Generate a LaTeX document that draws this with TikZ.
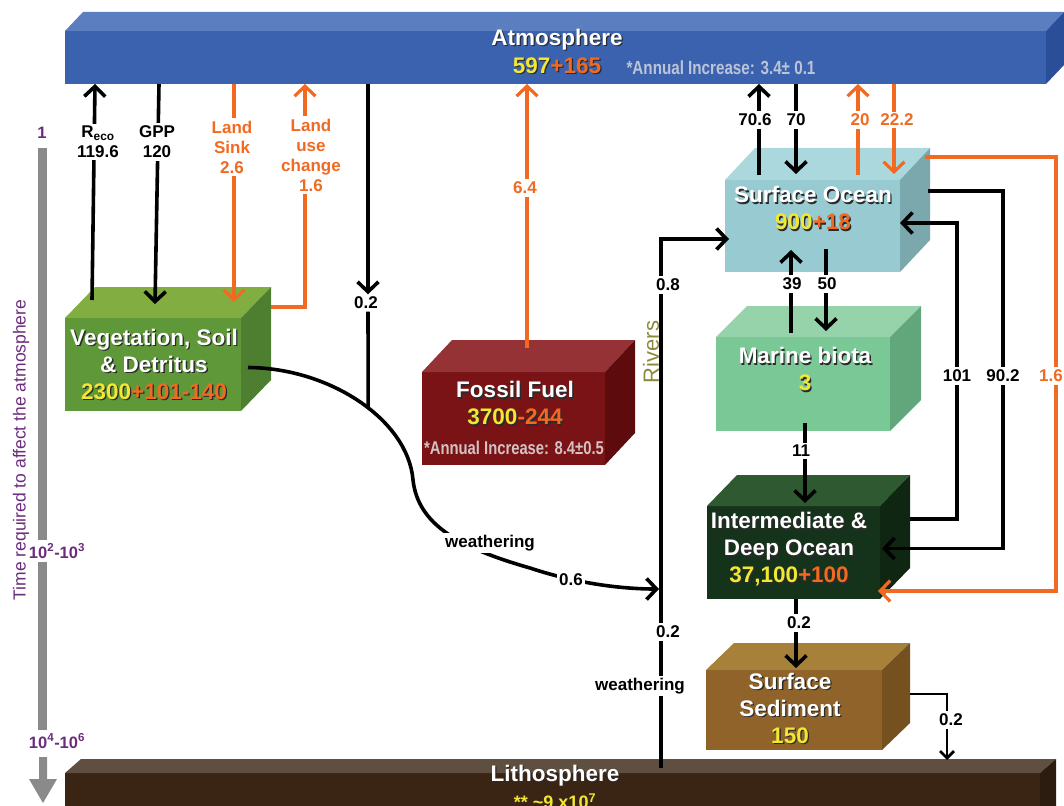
\documentclass[tikz,border=0pt]{standalone}
\usepackage{fontspec}
\setmainfont{Liberation Sans}
\newfontfamily\narrowfont[FakeStretch=0.8]{Liberation Sans}
\usetikzlibrary{arrows.meta,calc}

% face colours of the reservoirs (front, top, side)
\definecolor{atmF}{HTML}{3A62AE}\definecolor{atmT}{HTML}{5B7EC0}\definecolor{atmS}{HTML}{2B4E98}
\definecolor{lithF}{HTML}{3A2515}\definecolor{lithT}{HTML}{5E4F40}\definecolor{lithS}{HTML}{2C1C0F}
\definecolor{vegF}{HTML}{5F9838}\definecolor{vegT}{HTML}{82AD40}\definecolor{vegS}{HTML}{4E7E30}
\definecolor{fosF}{HTML}{7A1315}\definecolor{fosT}{HTML}{943236}\definecolor{fosS}{HTML}{5E0B0D}
\definecolor{ocnF}{HTML}{97CBD1}\definecolor{ocnT}{HTML}{ABD8DC}\definecolor{ocnS}{HTML}{7AA8AC}
\definecolor{marF}{HTML}{79C895}\definecolor{marT}{HTML}{96D3AA}\definecolor{marS}{HTML}{62A67C}
\definecolor{deepF}{HTML}{15321A}\definecolor{deepT}{HTML}{2F5A31}\definecolor{deepS}{HTML}{0F2712}
\definecolor{sedF}{HTML}{8F6329}\definecolor{sedT}{HTML}{A78139}\definecolor{sedS}{HTML}{74511F}
% text and line colours
\definecolor{ylw}{HTML}{F2E834}
\definecolor{orn}{HTML}{F26A22}
\definecolor{purp}{HTML}{6B2C7E}
\definecolor{rivc}{HTML}{8C8A3A}
\definecolor{tgray}{HTML}{8A8A8A}
\definecolor{annA}{HTML}{BCC4D8}
\definecolor{annF}{HTML}{D4C2C2}
\definecolor{txtshadow}{HTML}{2A2A2A}

% text with a small drop shadow
\newcommand\shd[2]{\rlap{\kern1.3pt\raisebox{-1.3pt}{\textcolor{txtshadow}{#2}}}\textcolor{#1}{#2}}

% top and side faces of a box whose front face is node #1
\newcommand\drawcube[5]{%
  \fill[#4] (#1.north west) -- ++(#2,-#3) -- ($(#1.north east)+(#2,-#3)$) -- (#1.north east) -- cycle;
  \fill[#5] (#1.north east) -- ++(#2,-#3) -- ($(#1.south east)+(#2,-#3)$) -- (#1.south east) -- cycle;}

\begin{document}
\begin{tikzpicture}[x=1pt,y=-1pt,
  front/.style={inner sep=0pt, outer sep=0pt},
  ttl/.style={inner sep=0pt, align=center, text=white, font=\bfseries\fontsize{22.5}{27}\selectfont},
  annual/.style={inner sep=0pt, font=\narrowfont\bfseries\fontsize{19}{22}\selectfont},
  lbl/.style={fill=white, inner sep=2.5pt, align=center, font=\bfseries\fontsize{17}{20}\selectfont},
  olbl/.style={lbl, text=orn},
  tlbl/.style={inner sep=1pt, text=purp, font=\bfseries\fontsize{16.5}{19}\selectfont},
  flow/.style={draw=black, line width=3.6pt},
  oflow/.style={draw=orn, line width=3.2pt},
  thinflow/.style={draw=black, line width=2.8pt},
  flowhead/.style={-{Straight Barb[length=10pt,width=21pt]}},
  smallhead/.style={-{Straight Barb[length=7pt,width=14pt]}}]

\useasboundingbox (0,0) rectangle (1064,805);
\clip (0,0) rectangle (1064,805);

% ---------- reservoirs ----------
\node[front, fill=atmF, minimum width=981pt, minimum height=53pt] (atm) at (555.5,57.5) {};
\drawcube{atm}{18}{19}{atmT}{atmS}
\node[front, fill=lithF, minimum width=975pt, minimum height=60pt] (litho) at (552.5,803) {};
\drawcube{litho}{16}{14}{lithT}{lithS}
\node[front, fill=vegF, minimum width=176pt, minimum height=93pt] (veg) at (153,364.5) {};
\drawcube{veg}{30}{31}{vegT}{vegS}
\node[front, fill=fosF, minimum width=183pt, minimum height=93pt] (fossil) at (513.5,418.5) {};
\drawcube{fossil}{30}{32}{fosT}{fosS}
\node[front, fill=ocnF, minimum width=175pt, minimum height=92pt] (ocean) at (812.5,226) {};
\drawcube{ocean}{30}{32}{ocnT}{ocnS}
\node[front, fill=marF, minimum width=174pt, minimum height=94pt] (marine) at (803,384) {};
\drawcube{marine}{31}{31}{marT}{marS}
\node[front, fill=deepF, minimum width=173pt, minimum height=93pt] (deep) at (793.5,552.5) {};
\drawcube{deep}{30}{31}{deepT}{deepS}
\node[front, fill=sedF, minimum width=176pt, minimum height=80pt] (sed) at (794,710) {};
\drawcube{sed}{28}{27}{sedT}{sedS}

% ---------- reservoir texts ----------
\node[ttl] (atmtitle) at (557,40) {\shd{white}{Atmosphere}};
\node[ttl] (atmnum) at (557,66) {\shd{ylw}{597}\shd{orn}{+165}};
\node[annual, text=annA] (atmann) at (721,68) {*Annual Increase: 3.4± 0.1};
\node[ttl] (vegtxt) at (154,365) {\shd{white}{Vegetation, Soil}\\\shd{white}{\& Detritus}\\\shd{ylw}{2300}\shd{orn}{+101-140}};
\node[ttl] (fostxt) at (515,404) {\shd{white}{Fossil Fuel}\\\shd{ylw}{3700}\shd{orn}{-244}};
\node[annual, text=annF, font=\narrowfont\bfseries\fontsize{18.5}{21}\selectfont] (fosann) at (514,448) {*Annual Increase: 8.4±0.5};
\node[ttl] (ocntxt) at (813,209) {\shd{white}{Surface Ocean}\\\shd{ylw}{900}\shd{orn}{+18}};
\node[ttl] (martxt) at (805,370) {\shd{white}{Marine biota}\\\shd{ylw}{3}};
\node[ttl] (deeptxt) at (789,550) {\shd{white}{Intermediate \&}\\\shd{white}{Deep Ocean}\\\shd{ylw}{37,100}\shd{orn}{+100}};
\node[ttl] (sedtxt) at (790,709) {\shd{white}{Surface}\\\shd{white}{Sediment}\\\shd{ylw}{150}};
\node[ttl] (lithtxt) at (555,787) {\shd{white}{Lithosphere}\\\textcolor{ylw}{\fontsize{18}{20}\selectfont ** \textasciitilde9 x10\textsuperscript{7}}};

% ---------- time axis ----------
\fill[tgray] (38,148) rectangle (47,540);
\fill[tgray] (38,562) rectangle (47,730);
\fill[tgray] (39,757) -- (47,757) -- (47,779) -- (57,779) -- (43,803) -- (29,779) -- (39,779) -- cycle;
\node[tlbl] (t1) at (42,133) {1};
\node[tlbl] (t2) at (57,551) {10\textsuperscript{2}-10\textsuperscript{3}};
\node[tlbl] (t3) at (57,741) {10\textsuperscript{4}-10\textsuperscript{6}};
\node[rotate=90, inner sep=0pt, text=purp, font=\fontsize{17.5}{20}\selectfont] (taxis) at (21,450) {Time required to affect the atmosphere};

% ---------- land fluxes ----------
\draw[flow, flowhead] ($(92,0 |- veg.north)+(0,-18)$) -- (95,0 |- atm.south);
\draw[flow, flowhead] (159,0 |- atm.south) -- ($(155,0 |- veg.north)+(0,-14)$);
\draw[oflow, flowhead] (234,0 |- atm.south) -- ($(234,0 |- veg.north)+(0,-16)$);
\draw[oflow, flowhead] ($(veg.north east)+(30,-11)$) -| (305,0 |- atm.south);
\draw[oflow, flowhead] ($(527,0 |- fossil.north)+(0,-24)$) -- (527,0 |- atm.south);

% weathering from the land to the rivers
\coordinate (rjoin) at (659,589);
\draw[flow, flowhead] ($(veg.east)+(7,3)$) .. controls (330,368) and (408,420) .. (413,480)
  coordinate[pos=0.55] (wjoin)
  .. controls (418,525) and (460,548) .. (530,568)
  .. controls (575,583) and (620,589) .. (rjoin);
\node[lbl] (l02a) at (366,303) {0.2};
\draw[flow, flowhead] (368,0 |- atm.south) -- (368,0 |- l02a.north);
\draw[flow] (368,0 |- l02a.south) -- (wjoin);

% rivers
\draw[flow, flowhead] ($(661,0 |- litho.north)+(0,-5)$) |- ($(ocean.west)+(4,13)$);
\node[rotate=90, inner sep=0pt, text=rivc, font=\fontsize{22}{26}\selectfont] (rivers) at (651,352) {Rivers};

% ---------- ocean fluxes ----------
\draw[flow, flowhead] ($(759,0 |- ocean.north)+(0,-5)$) -- (759,0 |- atm.south);
\draw[flow, flowhead] (796,0 |- atm.south) -- ($(796,0 |- ocean.north)+(0,-6)$);
\draw[oflow, flowhead] ($(858,0 |- ocean.north)+(0,-5)$) -- (858,0 |- atm.south);
\draw[oflow, flowhead] (894,0 |- atm.south) -- ($(894,0 |- ocean.north)+(0,-6)$);
\draw[flow, flowhead] ($(791,0 |- marine.north)+(0,-4)$) -- ($(791,0 |- ocean.south)+(0,-22)$);
\draw[flow, flowhead] ($(826,0 |- ocean.south)+(0,-23)$) -- ($(826,0 |- marine.north)+(0,-6)$);
\draw[flow, flowhead] ($(805,0 |- marine.south)+(0,-8)$) -- ($(805,0 |- deep.north)+(0,-3)$);
\draw[flow, flowhead] ($(deep.north east)+(30,13)$) -- ++(47,0) |- ($(ocean.east)+(0,-3)$);
\draw[flow, flowhead] ($(ocean.north east)+(28,11)$) -- ++(75,0) |- ($(deep.east)+(2,-4)$);
\draw[oflow, flowhead] ($(ocean.north east)+(25,-23)$) -- ++(131,0) |- ($(deep.south east)+(-2,-8)$);
\draw[flow, flowhead] (796,0 |- deep.south) -- ($(796,0 |- sed.north)+(0,-2)$);
\draw[thinflow, smallhead] ($(sed.north east)+(28,24)$) -- ++(37,0) -- ($(947,0 |- litho.north)+(0,-13)$);

% ---------- flux labels ----------
\node[lbl] (lreco) at (98,142) {R\textsubscript{eco}\\119.6};
\node[lbl] (lgpp) at (157,142) {GPP\\120};
\node[olbl] (lsink) at (232,147) {Land\\Sink\\2.6};
\node[olbl] (lluc) at (311,155) {Land\\use\\change\\1.6};
\node[olbl] (l64) at (525,188) {6.4};
\node[lbl] (l706) at (755,120) {70.6};
\node[lbl] (l70) at (796,120) {70};
\node[olbl] (l20) at (860,120) {20};
\node[olbl] (l222) at (897,120) {22.2};
\node[lbl] (l08) at (668,285) {0.8};
\node[lbl] (l39) at (792,284) {39};
\node[lbl] (l50) at (827,284) {50};
\node[lbl] (l101) at (957,376) {101};
\node[lbl] (l902) at (1003,376) {90.2};
\node[olbl] (l16) at (1051,376) {1.6};
\node[lbl] (l11) at (801,451) {11};
\node[lbl] (lwea1) at (490,543) {weathering};
\node[lbl] (l06) at (571,580) {0.6};
\node[lbl] (l02r) at (668,632) {0.2};
\node[lbl] (lwea2) at (640,686) {weathering};
\node[lbl] (l02s) at (799,623) {0.2};
\node[lbl] (l02l) at (951,720) {0.2};
\end{tikzpicture}
\end{document}
